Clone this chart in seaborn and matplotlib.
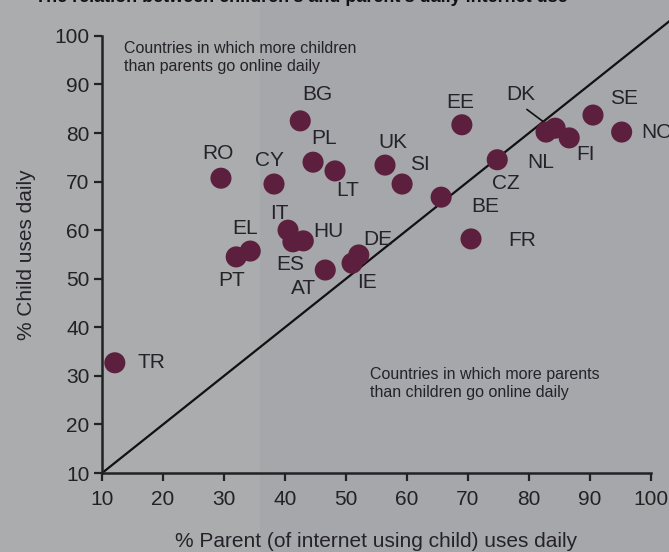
import pandas as pd
import seaborn as sns
import matplotlib.pyplot as plt
from matplotlib.patches import Rectangle

# country codes and values
countries = ['TR', 'RO', 'CY', 'BG', 'PL', 'LT', 'UK', 'SI', 'EE', 'BE', 'CZ', 'NL', 'DK',
             'FI', 'SE', 'NO', 'FR', 'EL', 'PT', 'IT', 'ES', 'HU', 'AT', 'DE', 'IE']
parent_daily = [12.1, 29.5, 38.2, 42.5, 44.6, 48.2, 56.4, 59.2, 69.0, 65.6, 74.8, 82.8, 84.3,
                86.6, 90.5, 95.2, 70.5, 34.3, 32.0, 40.5, 41.3, 43.0, 46.6, 52.1, 51.0]
child_daily = [32.7, 70.7, 69.5, 82.5, 74.0, 72.2, 73.4, 69.5, 81.7, 66.8, 74.5, 80.2, 81.0,
               79.0, 83.7, 80.2, 58.2, 55.7, 54.5, 60.0, 57.6, 57.8, 51.8, 54.9, 53.2]
# label offsets in points (dx, dy) relative to each point
label_offsets = {
    'TR': (16, 0), 'RO': (-2, 18), 'CY': (-3, 17), 'BG': (12, 19), 'PL': (8, 17),
    'LT': (9, -14), 'UK': (6, 16), 'SI': (13, 14), 'EE': (-1, 16), 'BE': (22, -7),
    'CZ': (6, -17), 'NL': (-4, -22), 'DK': (-25, 24), 'FI': (12, -12), 'SE': (22, 12),
    'NO': (14, 0), 'FR': (27, -1), 'EL': (-4, 16), 'PT': (-3, -17), 'IT': (-6, 12),
    'ES': (-2, -16), 'HU': (18, 7), 'AT': (-16, -13), 'DE': (14, 11), 'IE': (11, -14),
}

df = pd.DataFrame({'country': countries, 'parent': parent_daily, 'child': child_daily})

bg = '#a6a7ab'
bg_left = '#abacae'
dot = '#5c1f3e'
txt = '#25222a'

plt.rcParams['font.family'] = ['Liberation Sans', 'DejaVu Sans']
fig = plt.figure(figsize=(6.69, 5.52), dpi=100, facecolor=bg)
# slightly lighter scanned strip on the left, kept behind the axes
fig.patches.append(Rectangle((0, 0), 260 / 669, 1, transform=fig.transFigure,
                             facecolor=bg_left, edgecolor='none', zorder=-10))
ax = fig.add_axes([0.1525, 0.143, 0.8205, 0.792])
ax.patch.set_alpha(0)

# diagonal y = x
ax.plot([10, 106], [10, 106], color='#111111', lw=1.6, clip_on=False, zorder=1)

sns.scatterplot(data=df, x='parent', y='child', s=230, color=dot, edgecolor='none',
                ax=ax, zorder=3, clip_on=False)

for c, xv, yv in zip(countries, parent_daily, child_daily):
    dx, dy = label_offsets[c]
    ha = 'left' if c in ('TR', 'NO', 'FR', 'BE') else 'center'
    ax.annotate(c, (xv, yv), xytext=(dx, dy), textcoords='offset points',
                ha=ha, va='center', fontsize=15, color=txt, annotation_clip=False)

# DK leader line
ax.annotate('', xy=(82.6, 82.1), xytext=(79.3, 85.2),
            arrowprops=dict(arrowstyle='-', color='#111111', lw=1.2))

ax.text(13.6, 99.0, 'Countries in which more children\nthan parents go online daily',
        fontsize=11.5, color=txt, va='top', ha='left', linespacing=1.25)
ax.text(54.0, 31.8, 'Countries in which more parents\nthan children go online daily',
        fontsize=11.5, color=txt, va='top', ha='left', linespacing=1.25)

ax.set_xlim(10, 100)
ax.set_ylim(10, 100)
ax.set_xticks(range(10, 101, 10))
ax.set_yticks(range(10, 101, 10))
ax.tick_params(labelsize=15, colors='#222222', length=6, width=1.6)
ax.tick_params(axis='x', pad=6.5)
ax.tick_params(axis='y', pad=3)
for s in ['top', 'right']:
    ax.spines[s].set_visible(False)
for s in ['left', 'bottom']:
    ax.spines[s].set_linewidth(1.8)
    ax.spines[s].set_color('#222222')

ax.set_xlabel('% Parent (of internet using child) uses daily', fontsize=15, color=txt, labelpad=16)
ax.set_ylabel('% Child uses daily', fontsize=15, color=txt, labelpad=13)

fig.text(0.45, 1.0 + 3 / 552, "The relation between children's and parent's daily internet use",
         fontsize=13, fontweight='bold', color='#111111', ha='center', va='center')

fig.savefig('out.png', dpi=100, facecolor=bg)
